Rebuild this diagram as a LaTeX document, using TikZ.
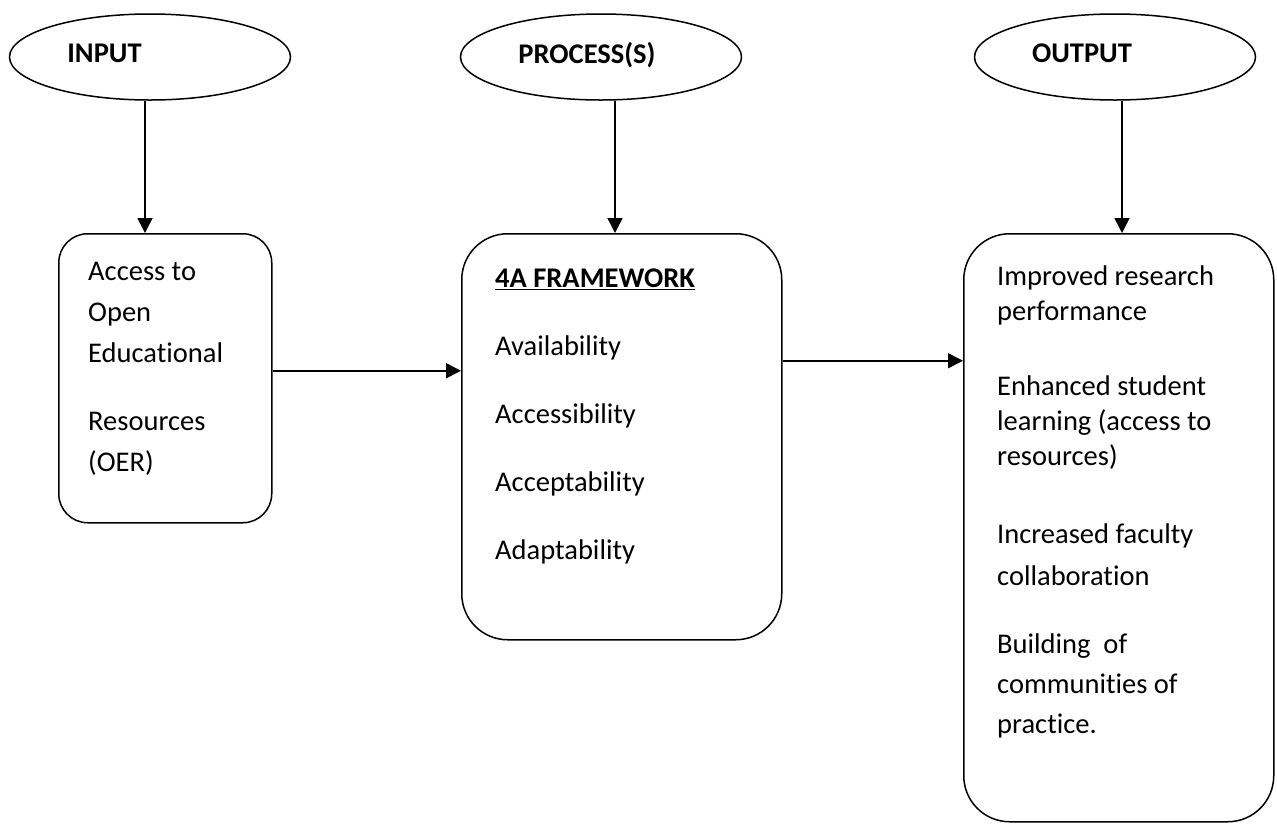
\documentclass[tikz,border=0pt]{standalone}
\usepackage{fontspec}
\setmainfont{Carlito}[Ligatures={NoCommon,NoContextual,NoRequired},RawFeature={-liga;-clig;-calt;-dlig}]
\usetikzlibrary{shapes.geometric,arrows.meta,calc}
\tikzset{
 oval/.style={ellipse, draw, line width=1.5pt, minimum width=281pt, minimum height=86pt, inner sep=0pt, font=\fontsize{28.5}{34}\selectfont\bfseries},
 rbox/.style={draw, line width=1.5pt, anchor=north west, inner sep=0pt},
 txt/.style={anchor=north west, inner sep=0pt, align=left, font=\fontsize{28.5}{41}\selectfont},
 arr/.style={-{Triangle[length=15pt,width=15pt]}, line width=1.5pt},
}
\newcommand{\dpt}{\rule[-8.3pt]{0pt}{8.3pt}}
\begin{document}
\begin{tikzpicture}[x=1pt,y=-1pt]
\useasboundingbox (0,0) rectangle (1277,823);
% ovals
\node[oval] (inE) at (150,57) {\dpt INPUT\rule{91pt}{0pt}};
\node[oval] (prE) at (601,57) {\dpt PROCESS(S)\rule{28pt}{0pt}};
\node[oval] (outE) at (1115,57) {\dpt OUTPUT\rule{66pt}{0pt}};
% boxes
\node[rbox, minimum width=213pt, minimum height=289pt, rounded corners=29pt] (inbox) at (58,233) {};
\node[rbox, minimum width=320pt, minimum height=406pt, rounded corners=46pt] (prbox) at (461,233) {};
\node[rbox, minimum width=310pt, minimum height=588pt, rounded corners=46pt] (outbox) at (963,233) {};
% texts
\node[txt] (intxt) at (88,251.5) {\rule{0pt}{28.5pt}Access to\\Open\\Educational\\[27pt]Resources\\(OER)};
\node[txt] (prtxt) at (495,258.5) {\rule{0pt}{28.5pt}\underline{\textbf{4A FRAMEWORK}}\\[27pt]Availability\\[27pt]Accessibility\\[27pt]Acceptability\\[27pt]Adaptability};
\node[txt, font=\fontsize{28.5}{35}\selectfont] (outtxt) at (997,256.5) {\rule{0pt}{28.5pt}Improved research\\performance\\[40pt]Enhanced student\\learning (access to\\resources)\\[43pt]Increased faculty\\[7pt]collaboration\\[33pt]Building~~of\\[5pt]communities of\\[5pt]practice.};
% arrows
\draw[arr] ($(inE.south)+(-5,0)$) -- ($(inE.south |- inbox.north)+(-5,0)$);
\draw[arr] ($(prE.south)+(14,0)$) -- ($(prE.south |- prbox.north)+(14,0)$);
\draw[arr] ($(outE.south)+(7,0)$) -- ($(outE.south |- outbox.north)+(7,0)$);
\draw[arr] ($(inbox.east)+(0,-7.5)$) -- ($(inbox.east -| prbox.west)+(0,-7.5)$);
\draw[arr] ($(prbox.east)+(0,-76)$) -- ($(prbox.east -| outbox.west)+(0,-76)$);
\end{tikzpicture}
\end{document}
